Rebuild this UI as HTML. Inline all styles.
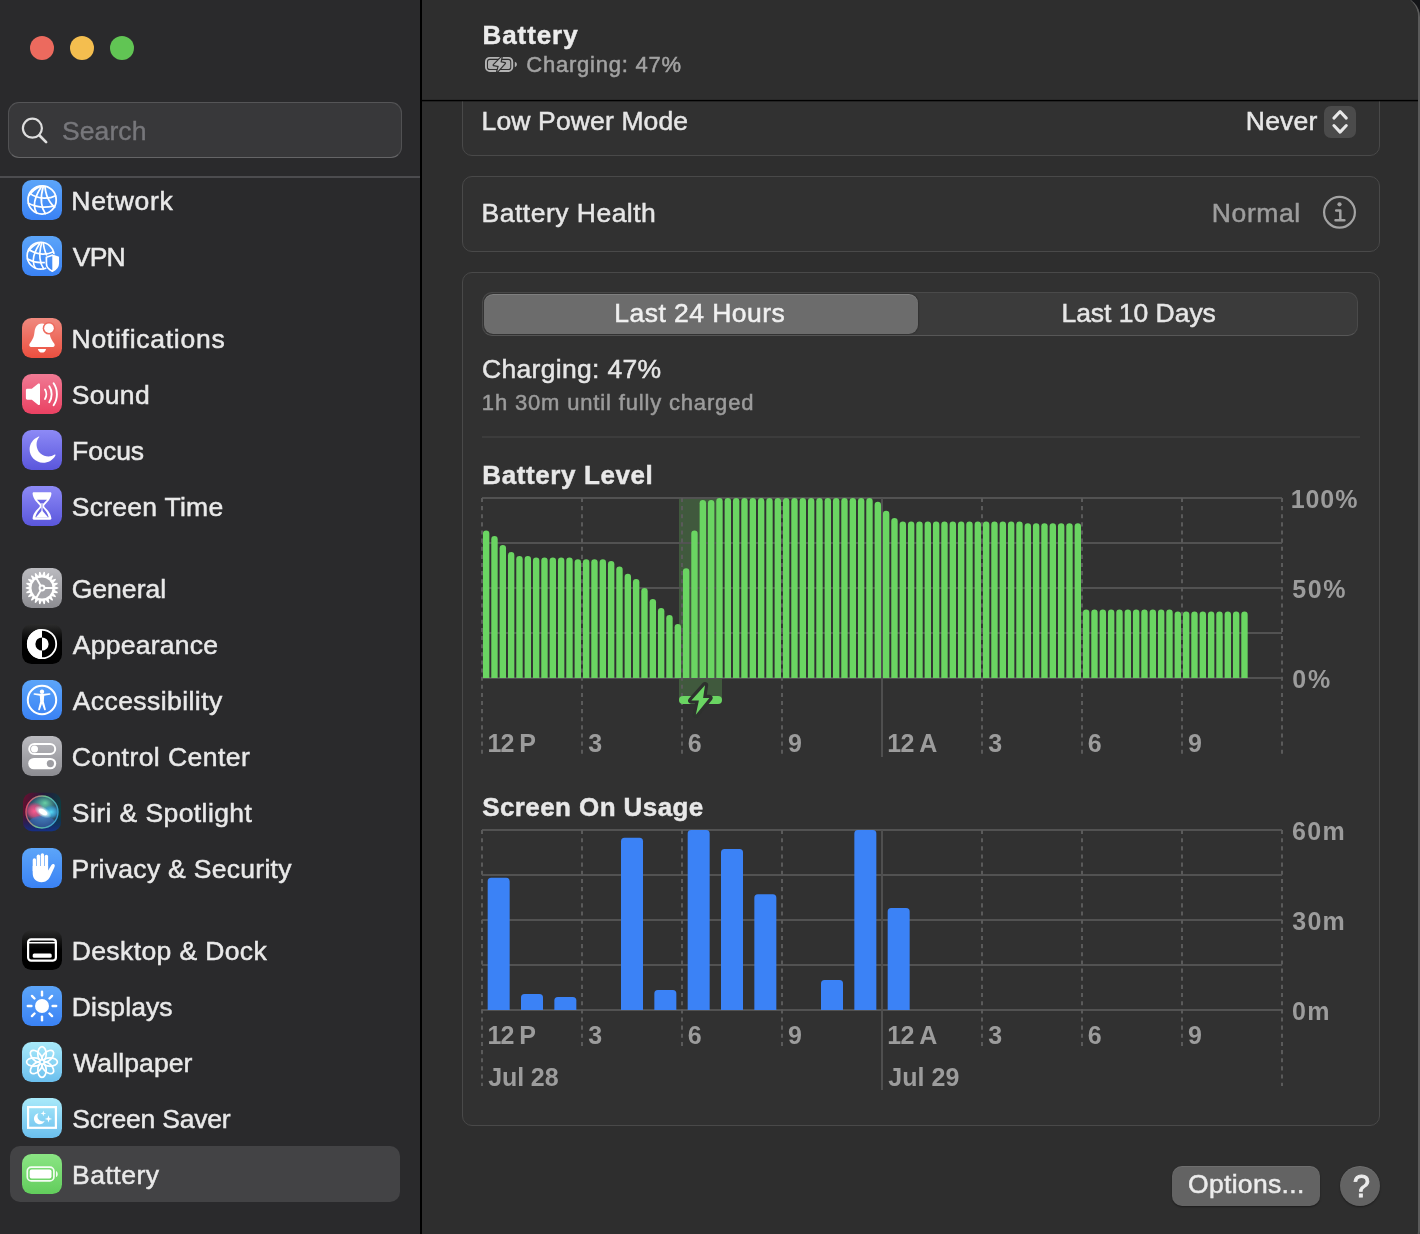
<!DOCTYPE html>
<html><head><meta charset="utf-8"><title>Battery</title>
<style>
html,body{margin:0;padding:0;background:#141518;}
body{width:1420px;height:1234px;overflow:hidden;position:relative;font-family:"Liberation Sans", sans-serif;color:#e6e6e6;-webkit-font-smoothing:antialiased}
#win{will-change:transform;position:absolute;left:0;top:-3px;width:1418px;height:1254px;background:#2e2e2e;border-right:2px solid #5a5a5a;border-top-right-radius:20px;border-bottom-right-radius:20px;overflow:hidden}
#in{position:absolute;left:0;top:3px;width:1420px;height:1250px}
#side{position:absolute;left:0;top:0;width:420px;height:1250px;background:#2a2a2c}
#vdiv{position:absolute;left:420px;top:0;width:2px;height:1250px;background:#000}
#hdiv{position:absolute;left:422px;top:100px;width:998px;height:1px;background:#000;box-shadow:0 1px 0 rgba(0,0,0,.3),0 -1px 0 rgba(0,0,0,.12)}
.tl{position:absolute;top:35.8px;width:24.4px;height:24.4px;border-radius:12.2px}
#search{position:absolute;left:8px;top:102px;width:392px;height:54px;border-radius:11px;background:#38383a;border:1px solid #515153;border-top-color:#555557;border-bottom-color:#656567}
#search span{position:absolute;left:53px;top:11px;font-size:26px;line-height:32px;color:#7d7d81;letter-spacing:.2px}
#sdiv{position:absolute;left:0;top:176px;width:420px;height:2px;background:#4c4c4f}
#sel{position:absolute;left:10px;top:1146px;width:390px;height:56px;border-radius:10px;background:#434345}
.ic{position:absolute;left:22px;width:40px;height:40px}
.ic svg{display:block}
.sl{position:absolute;left:72px;height:40px;line-height:40px;font-size:26.5px;white-space:nowrap;color:#e9e9e9;-webkit-text-stroke:.5px #e9e9e9;transform:translateY(-.3px)}
.card{position:absolute;left:462px;width:916px;background:#313131;border:1px solid #494949;border-radius:10px}
.t26{position:absolute;font-size:26px;line-height:32px;white-space:nowrap;color:#e6e6e6;-webkit-text-stroke:.35px currentColor}
.t22{position:absolute;font-size:22px;line-height:28px;white-space:nowrap;color:#9d9d9d;-webkit-text-stroke:.3px currentColor}
.b{font-weight:700}
.tx{position:absolute;white-space:pre}
.ax{position:absolute;font-size:24px;line-height:28px;font-weight:700;color:#9c9c9c;white-space:nowrap}
svg{position:absolute;left:0;top:0}
</style></head>
<body>
<div id="win"><div id="in">
 <div id="side">
  <div class="tl" style="left:29.8px;background:#ec6a5e"></div>
  <div class="tl" style="left:69.9px;background:#f4be4f"></div>
  <div class="tl" style="left:109.8px;background:#61c554"></div>
  <div id="search">
   <svg width="40" height="40" viewBox="0 0 40 40" style="left:8px;top:8px"><circle cx="15.4" cy="17.2" r="9.5" fill="none" stroke="#dedede" stroke-width="2.2"/><path d="M22.3 24.2L29.1 31.1" stroke="#dedede" stroke-width="2.7" stroke-linecap="round"/></svg>
  </div>
  <div class="tx" style="left:61.92px;top:111.72px;font-size:26.5px;font-weight:400;line-height:39px;letter-spacing:0.106px;color:#77777b;-webkit-text-stroke:0.4px #77777b;">Search</div>
  <div id="sdiv"></div>
  <div id="sel"></div>
<div class="ic" style="top:180px"><svg width="40" height="40" viewBox="0 0 40 40"><defs><linearGradient id="gnw" x1="0" y1="0" x2="0" y2="1"><stop offset="0" stop-color="#5ca5f9"/><stop offset="1" stop-color="#3a82f5"/></linearGradient></defs><rect x="0" y="0" width="40" height="40" rx="9.5" fill="url(#gnw)"/><g><g fill="none" stroke="#fff" stroke-width="1.75" stroke-linecap="round"><circle cx="20.1" cy="19.9" r="14.1"/><path d="M19.3 6.8C15.5 12.800 12.200 19 12.400 25.500C12.500 28.500 13.300 30.900 14.700 32.900"/><path d="M21.300 6.300C19.600 12 19 18 19.500 23C19.900 27 21.200 30.600 23.300 33.500"/><path d="M22.900 6.600C23.600 12.800 25.500 18.400 28 22C29.500 24.200 31 25.900 32.700 27.200"/><path d="M18.300 6.400C13.500 8.400 9.500 12 7.300 15.300"/><path d="M7.800 13.400C12 16.500 17 18 22 18.200C26.500 18.300 30.500 17.500 33.600 15.800"/><path d="M6.400 23.300C10.500 25.600 15.500 26.900 20.500 27.100C24.500 27.200 28 26.900 31.200 26.200"/></g></g></svg></div>
<div class="tx" style="left:71.32px;top:181.52px;font-size:26.5px;font-weight:400;line-height:39px;letter-spacing:0.706px;color:#e9e9e9;-webkit-text-stroke:0.5px #e9e9e9;">Network</div>
<div class="ic" style="top:236px"><svg width="40" height="40" viewBox="0 0 40 40"><defs><linearGradient id="gvp" x1="0" y1="0" x2="0" y2="1"><stop offset="0" stop-color="#5ca5f9"/><stop offset="1" stop-color="#3a82f5"/></linearGradient><clipPath id="vpc"><path clip-rule="evenodd" d="M0 0H40V40H0zM30.300 17.500L22.900 20.200V27.600C22.900 32 26 35 30.300 37.100C34.600 35 37.700 32 37.700 27.600V20.200z"/></clipPath></defs><rect x="0" y="0" width="40" height="40" rx="9.5" fill="url(#gvp)"/><g clip-path="url(#vpc)"><g fill="none" stroke="#fff" stroke-width="1.75" stroke-linecap="round" transform="translate(-0.6 0.7) scale(0.955)"><circle cx="20.1" cy="19.9" r="14.1"/><path d="M19.3 6.8C15.5 12.800 12.200 19 12.400 25.500C12.500 28.500 13.300 30.900 14.700 32.900"/><path d="M21.300 6.300C19.600 12 19 18 19.500 23C19.900 27 21.200 30.600 23.300 33.500"/><path d="M22.900 6.600C23.600 12.800 25.500 18.400 28 22C29.500 24.200 31 25.900 32.700 27.200"/><path d="M18.300 6.400C13.500 8.400 9.500 12 7.300 15.300"/><path d="M7.800 13.400C12 16.500 17 18 22 18.200C26.500 18.300 30.500 17.500 33.600 15.800"/><path d="M6.400 23.300C10.500 25.600 15.500 26.900 20.500 27.100C24.500 27.200 28 26.900 31.200 26.200"/></g></g><path d="M30.300 19.200L36.200 21.300V27.500C36.200 31 33.600 33.600 30.300 35.200C27 33.600 24.400 31 24.400 27.500V21.300z" fill="none" stroke="#fff" stroke-width="1.700" stroke-linejoin="round"/><path d="M30.300 19.200L36.200 21.300V27.500C36.200 31 33.600 33.600 30.300 35.200z" fill="#fff"/></svg></div>
<div class="tx" style="left:72.78px;top:237.52px;font-size:26.5px;font-weight:400;line-height:39px;letter-spacing:-0.78px;color:#e9e9e9;-webkit-text-stroke:0.5px #e9e9e9;">VPN</div>
<div class="ic" style="top:318px"><svg width="40" height="40" viewBox="0 0 40 40"><defs><linearGradient id="gnt" x1="0" y1="0" x2="0" y2="1"><stop offset="0" stop-color="#f08a7f"/><stop offset="1" stop-color="#eb4f3f"/></linearGradient></defs><rect x="0" y="0" width="40" height="40" rx="9.5" fill="url(#gnt)"/><path d="M20 5.400C15.800 5.400 13.200 8.600 12.600 13.200C12.100 17.500 11.600 20.500 7.800 25.400C6.700 26.800 7.300 28.900 9.300 28.900H30.700C32.700 28.900 33.300 26.800 32.200 25.400C28.400 20.500 27.900 17.500 27.400 13.200C26.800 8.600 24.200 5.400 20 5.400z" fill="#fff"/><path d="M15.900 30.900H24.100C23.600 33.300 22 34.500 20 34.500S16.400 33.300 15.900 30.900z" fill="#fff"/><circle cx="27" cy="10.200" r="6.300" fill="#ee6b5e"/><circle cx="27" cy="10.200" r="4.800" fill="#fff"/></svg></div>
<div class="tx" style="left:71.52px;top:319.52px;font-size:26.5px;font-weight:400;line-height:39px;letter-spacing:0.736px;color:#e9e9e9;-webkit-text-stroke:0.5px #e9e9e9;">Notifications</div>
<div class="ic" style="top:374px"><svg width="40" height="40" viewBox="0 0 40 40"><defs><linearGradient id="gsd" x1="0" y1="0" x2="0" y2="1"><stop offset="0" stop-color="#f07a94"/><stop offset="1" stop-color="#ea4162"/></linearGradient></defs><rect x="0" y="0" width="40" height="40" rx="9.5" fill="url(#gsd)"/><path d="M3.900 16.200C3.900 15.400 4.500 14.800 5.300 14.800H9.800L16.300 9.600C17 9.100 18 9.600 18 10.500V30C18 30.900 17 31.400 16.300 30.900L9.800 25.700H5.300C4.500 25.700 3.900 25.100 3.900 24.300z" fill="#fff"/><g fill="none" stroke="#fff" stroke-width="1.900" stroke-linecap="round"><path d="M23 15.600C24.700 18.200 24.700 22.300 23 24.900"/><path d="M27.300 12.300C30.400 16.800 30.400 23.700 27.300 28.200"/><path d="M31.600 9.300C36 15.600 36 24.900 31.600 31.200"/></g></svg></div>
<div class="tx" style="left:71.84px;top:375.52px;font-size:26.5px;font-weight:400;line-height:39px;letter-spacing:0.292px;color:#e9e9e9;-webkit-text-stroke:0.5px #e9e9e9;">Sound</div>
<div class="ic" style="top:430px"><svg width="40" height="40" viewBox="0 0 40 40"><defs><linearGradient id="gfc" x1="0" y1="0" x2="0" y2="1"><stop offset="0" stop-color="#8d8af6"/><stop offset="1" stop-color="#5a56dc"/></linearGradient></defs><rect x="0" y="0" width="40" height="40" rx="9.5" fill="url(#gfc)"/><path d="M17.200 7C13.500 11 13.500 19 18.500 23.500C22.500 27 28.500 27.500 32.700 24.600C33.200 24.300 33.700 24.800 33.400 25.400C31 30 26.300 32.700 21 32.700C13.600 32.700 7.600 26.700 7.600 19.300C7.600 13.500 11.300 8.700 16.300 6.700C17 6.400 17.600 6.600 17.200 7z" fill="#fff"/></svg></div>
<div class="tx" style="left:72.02px;top:431.52px;font-size:26.5px;font-weight:400;line-height:39px;letter-spacing:-0.016px;color:#e9e9e9;-webkit-text-stroke:0.5px #e9e9e9;">Focus</div>
<div class="ic" style="top:486px"><svg width="40" height="40" viewBox="0 0 40 40"><defs><linearGradient id="gst" x1="0" y1="0" x2="0" y2="1"><stop offset="0" stop-color="#8d8af6"/><stop offset="1" stop-color="#5a56dc"/></linearGradient></defs><rect x="0" y="0" width="40" height="40" rx="9.5" fill="url(#gst)"/><path d="M11.800 6.300H28.200C29 6.300 29.500 6.900 29.400 7.700C28.900 12.500 26 15.500 22.300 19.300V20.700C26 24.500 28.900 27.500 29.400 32.300C29.500 33.100 29 33.700 28.200 33.700H11.800C11 33.700 10.500 33.100 10.600 32.300C11.100 27.500 14 24.500 17.700 20.700V19.300C14 15.500 11.100 12.500 10.600 7.700C10.500 6.900 11 6.300 11.800 6.300z" fill="#fff"/><path d="M15 13.800H25L20.700 18.300V21.500C23.500 24.500 25.800 27 26.700 31.300H13.300C14.200 27 16.500 24.500 19.300 21.500V18.300z" fill="#6b67e4"/><path d="M20 24.300L26 31.300H14z" fill="#fff"/><rect x="19.500" y="17" width="1" height="8" fill="#fff"/></svg></div>
<div class="tx" style="left:71.84px;top:487.52px;font-size:26.5px;font-weight:400;line-height:39px;letter-spacing:0.261px;color:#e9e9e9;-webkit-text-stroke:0.5px #e9e9e9;">Screen Time</div>
<div class="ic" style="top:568px"><svg width="40" height="40" viewBox="0 0 40 40"><defs><linearGradient id="gge" x1="0" y1="0" x2="0" y2="1"><stop offset="0" stop-color="#bbbbc0"/><stop offset="1" stop-color="#8c8c91"/></linearGradient></defs><rect x="0" y="0" width="40" height="40" rx="9.5" fill="url(#gge)"/><path d="M32.17 18.25L36.29 19.39L36.29 20.61L32.17 21.75L32.17 21.75L35.80 24.01L35.46 25.17L31.19 25.11L31.19 25.11L34.03 28.30L33.38 29.32L29.30 28.05L29.30 28.05L31.12 31.91L30.21 32.71L26.65 30.35L26.65 30.35L27.32 34.57L26.22 35.07L23.47 31.80L23.47 31.80L22.92 36.04L21.72 36.21L20.00 32.30L20.00 32.30L18.28 36.21L17.08 36.04L16.53 31.80L16.53 31.80L13.78 35.07L12.68 34.57L13.35 30.35L13.35 30.35L9.79 32.71L8.88 31.91L10.70 28.05L10.70 28.05L6.62 29.32L5.97 28.30L8.81 25.11L8.81 25.11L4.54 25.17L4.20 24.01L7.83 21.75L7.83 21.75L3.71 20.61L3.71 19.39L7.83 18.25L7.83 18.25L4.20 15.99L4.54 14.83L8.81 14.89L8.81 14.89L5.97 11.70L6.62 10.68L10.70 11.95L10.70 11.95L8.88 8.09L9.79 7.29L13.35 9.65L13.35 9.65L12.68 5.43L13.78 4.93L16.53 8.20L16.53 8.20L17.08 3.96L18.28 3.79L20.00 7.70L20.00 7.70L21.72 3.79L22.92 3.96L23.47 8.20L23.47 8.20L26.22 4.93L27.32 5.43L26.65 9.65L26.65 9.65L30.21 7.29L31.12 8.09L29.30 11.95L29.30 11.95L33.38 10.68L34.03 11.70L31.19 14.89L31.19 14.89L35.46 14.83L35.80 15.99L32.17 18.25z" fill="#fff"/><circle cx="20" cy="20" r="12.7" fill="#fff"/><circle cx="20" cy="20" r="10.5" fill="#a5a5aa"/><g stroke="#fff" stroke-width="1.900" stroke-linecap="round"><path d="M20 20H31"/><path d="M20 20L14.500 10.500"/><path d="M20 20L14.500 29.500"/></g><circle cx="20" cy="20" r="3.400" fill="#fff"/><circle cx="20" cy="20" r="1.500" fill="#a5a5aa"/></svg></div>
<div class="tx" style="left:71.65px;top:569.52px;font-size:26.5px;font-weight:400;line-height:39px;letter-spacing:0.044px;color:#e9e9e9;-webkit-text-stroke:0.5px #e9e9e9;">General</div>
<div class="ic" style="top:624px"><svg width="40" height="40" viewBox="0 0 40 40"><defs><linearGradient id="gap" x1="0" y1="0" x2="0" y2="1"><stop offset="0" stop-color="#2c2c2c"/><stop offset=".45" stop-color="#000"/></linearGradient></defs><rect x="0" y="0" width="40" height="40" rx="9.5" fill="url(#gap)"/><circle cx="20" cy="20" r="14.200" fill="#000" stroke="#fff" stroke-width="1.800"/><path d="M20 5A15 15 0 0 0 20 35z" fill="#fff"/><path d="M20 13.400A6.600 6.600 0 0 0 20 26.600z" fill="#000"/><path d="M20 13.400A6.600 6.600 0 0 1 20 26.600z" fill="#fff"/></svg></div>
<div class="tx" style="left:72.71px;top:625.52px;font-size:26.5px;font-weight:400;line-height:39px;letter-spacing:0.271px;color:#e9e9e9;-webkit-text-stroke:0.5px #e9e9e9;">Appearance</div>
<div class="ic" style="top:680px"><svg width="40" height="40" viewBox="0 0 40 40"><defs><linearGradient id="gac" x1="0" y1="0" x2="0" y2="1"><stop offset="0" stop-color="#5ca5f9"/><stop offset="1" stop-color="#3a82f5"/></linearGradient></defs><rect x="0" y="0" width="40" height="40" rx="9.5" fill="url(#gac)"/><circle cx="20" cy="20" r="14.200" fill="none" stroke="#fff" stroke-width="2"/><circle cx="20" cy="11.800" r="2.200" fill="#fff"/><path d="M12.200 14.700L17.800 15.800L18.200 21.500L16.200 29.300C16 30.300 17.500 30.700 17.900 29.700L20 23.800L22.100 29.700C22.500 30.700 24 30.300 23.800 29.300L21.800 21.500L22.200 15.800L27.800 14.700C28.800 14.500 28.600 13.100 27.600 13.200L20 14.100L12.400 13.200C11.400 13.100 11.200 14.500 12.200 14.700z" fill="#fff"/></svg></div>
<div class="tx" style="left:72.71px;top:681.52px;font-size:26.5px;font-weight:400;line-height:39px;letter-spacing:0.434px;color:#e9e9e9;-webkit-text-stroke:0.5px #e9e9e9;">Accessibility</div>
<div class="ic" style="top:736px"><svg width="40" height="40" viewBox="0 0 40 40"><defs><linearGradient id="gcc" x1="0" y1="0" x2="0" y2="1"><stop offset="0" stop-color="#bbbbc0"/><stop offset="1" stop-color="#8c8c91"/></linearGradient></defs><rect x="0" y="0" width="40" height="40" rx="9.5" fill="url(#gcc)"/><rect x="7.200" y="7.900" width="26" height="10.200" rx="5.100" fill="none" stroke="#fff" stroke-width="2"/><circle cx="12.500" cy="13" r="3.500" fill="#fff"/><rect x="6.200" y="21.900" width="28" height="11.400" rx="5.700" fill="#fff"/><circle cx="28.400" cy="27.600" r="3.600" fill="#9d9da2"/></svg></div>
<div class="tx" style="left:71.65px;top:737.52px;font-size:26.5px;font-weight:400;line-height:39px;letter-spacing:0.443px;color:#e9e9e9;-webkit-text-stroke:0.5px #e9e9e9;">Control Center</div>
<div class="ic" style="top:792px"><svg width="40" height="40" viewBox="0 0 40 40"><defs><linearGradient id="gsi" x1="0" y1="0.2" x2="1" y2="0.5"><stop offset="0" stop-color="#64102f"/><stop offset=".45" stop-color="#251a3c"/><stop offset="1" stop-color="#0c3f42"/></linearGradient><linearGradient id="gsr" x1="0" y1=".35" x2="1" y2=".65"><stop offset="0" stop-color="#f0506e"/><stop offset=".5" stop-color="#6fd39a"/><stop offset="1" stop-color="#3aa7e0"/></linearGradient><radialGradient id="gso" cx=".52" cy=".45" r=".55"><stop offset="0" stop-color="#7fb5c6"/><stop offset=".55" stop-color="#3f7188"/><stop offset="1" stop-color="#22324f"/></radialGradient><radialGradient id="gsw" cx=".5" cy=".5" r=".5"><stop offset="0" stop-color="#fff"/><stop offset=".4" stop-color="#f2fdff" stop-opacity=".95"/><stop offset="1" stop-color="#b6efff" stop-opacity="0"/></radialGradient><radialGradient id="gsp" cx=".5" cy=".5" r=".5"><stop offset="0" stop-color="#ff5a8f"/><stop offset=".6" stop-color="#e0457a" stop-opacity=".75"/><stop offset="1" stop-color="#d4336a" stop-opacity="0"/></radialGradient><radialGradient id="gsc" cx=".5" cy=".5" r=".5"><stop offset="0" stop-color="#58dcf4"/><stop offset=".6" stop-color="#37a5dd" stop-opacity=".7"/><stop offset="1" stop-color="#2a8fd0" stop-opacity="0"/></radialGradient><radialGradient id="gsg" cx=".5" cy=".5" r=".5"><stop offset="0" stop-color="#6ad0a6"/><stop offset="1" stop-color="#2f8f78" stop-opacity="0"/></radialGradient><linearGradient id="gsb" x1="0" y1="0" x2="0" y2="1"><stop offset=".55" stop-color="#10205a" stop-opacity="0"/><stop offset="1" stop-color="#16308a" stop-opacity=".95"/></linearGradient><clipPath id="gscl"><circle cx="20" cy="20" r="16"/></clipPath></defs><rect x="1" y="0.800" width="38" height="38.400" rx="9" fill="url(#gsi)"/><rect x="1" y="0.800" width="38" height="38.400" rx="9" fill="url(#gsb)"/><circle cx="20" cy="20" r="16" fill="url(#gso)"/><g clip-path="url(#gscl)"><ellipse cx="23" cy="11" rx="12" ry="9" fill="url(#gsg)"/><ellipse cx="12.500" cy="19" rx="10" ry="9" fill="url(#gsp)"/><ellipse cx="29" cy="20" rx="9" ry="7" fill="url(#gsc)"/><ellipse cx="20" cy="31" rx="13" ry="7" fill="#3a6fd0" opacity=".5"/><ellipse cx="21" cy="20" rx="9.500" ry="5" fill="url(#gsw)" transform="rotate(30 21 20)"/><ellipse cx="21" cy="20" rx="4.600" ry="2.300" fill="#fff" transform="rotate(30 21 20)"/></g><circle cx="20" cy="20" r="16" fill="none" stroke="url(#gsr)" stroke-width="1.400" opacity=".9"/></svg></div>
<div class="tx" style="left:71.84px;top:793.52px;font-size:26.5px;font-weight:400;line-height:39px;letter-spacing:0.416px;color:#e9e9e9;-webkit-text-stroke:0.5px #e9e9e9;">Siri &amp; Spotlight</div>
<div class="ic" style="top:848px"><svg width="40" height="40" viewBox="0 0 40 40"><defs><linearGradient id="gpv" x1="0" y1="0" x2="0" y2="1"><stop offset="0" stop-color="#5ca5f9"/><stop offset="1" stop-color="#3a82f5"/></linearGradient></defs><rect x="0" y="0" width="40" height="40" rx="9.5" fill="url(#gpv)"/><g fill="#fff"><rect x="10.700" y="10.300" width="3.400" height="14" rx="1.700"/><rect x="14.700" y="6.500" width="3.400" height="16" rx="1.700"/><rect x="18.700" y="5.300" width="3.400" height="16" rx="1.700"/><rect x="22.700" y="6.800" width="3.400" height="16" rx="1.700"/><path d="M10.700 18H26.100V22.500L29.300 17.300C30 16.100 31.300 15.800 32.100 16.300C32.900 16.800 33 17.800 32.500 18.900L28.600 27.500C26.900 31.500 24 34.200 19.500 34.200C14.300 34.200 10.700 30.600 10.700 25.500z"/></g></svg></div>
<div class="tx" style="left:71.52px;top:849.52px;font-size:26.5px;font-weight:400;line-height:39px;letter-spacing:0.293px;color:#e9e9e9;-webkit-text-stroke:0.5px #e9e9e9;">Privacy &amp; Security</div>
<div class="ic" style="top:930px"><svg width="40" height="40" viewBox="0 0 40 40"><defs><linearGradient id="gdk" x1="0" y1="0" x2="0" y2="1"><stop offset="0" stop-color="#2a2a2a"/><stop offset=".5" stop-color="#000"/></linearGradient></defs><rect x="0" y="0" width="40" height="40" rx="9.5" fill="url(#gdk)"/><rect x="6.100" y="9.300" width="27.800" height="21.300" rx="3" fill="none" stroke="#fff" stroke-width="2.200"/><rect x="6.500" y="12" width="27" height="1.500" fill="#fff"/><rect x="10.700" y="23.600" width="19" height="4.100" rx="1.500" fill="#fff"/></svg></div>
<div class="tx" style="left:71.72px;top:931.52px;font-size:26.5px;font-weight:400;line-height:39px;letter-spacing:0.387px;color:#e9e9e9;-webkit-text-stroke:0.5px #e9e9e9;">Desktop &amp; Dock</div>
<div class="ic" style="top:986px"><svg width="40" height="40" viewBox="0 0 40 40"><defs><linearGradient id="gdp" x1="0" y1="0" x2="0" y2="1"><stop offset="0" stop-color="#5ca5f9"/><stop offset="1" stop-color="#3a82f5"/></linearGradient></defs><rect x="0" y="0" width="40" height="40" rx="9.5" fill="url(#gdp)"/><circle cx="20" cy="20" r="7" fill="#fff"/><g stroke="#fff" stroke-width="2.400" stroke-linecap="round"><path d="M30.60 20.00L34.20 20.00"/><path d="M27.50 27.50L30.04 30.04"/><path d="M20.00 30.60L20.00 34.20"/><path d="M12.50 27.50L9.96 30.04"/><path d="M9.40 20.00L5.80 20.00"/><path d="M12.50 12.50L9.96 9.96"/><path d="M20.00 9.40L20.00 5.80"/><path d="M27.50 12.50L30.04 9.96"/></g></svg></div>
<div class="tx" style="left:71.72px;top:987.52px;font-size:26.5px;font-weight:400;line-height:39px;letter-spacing:0.105px;color:#e9e9e9;-webkit-text-stroke:0.5px #e9e9e9;">Displays</div>
<div class="ic" style="top:1042px"><svg width="40" height="40" viewBox="0 0 40 40"><defs><linearGradient id="gwp" x1="0" y1="0" x2="0" y2="1"><stop offset="0" stop-color="#a9eafa"/><stop offset="1" stop-color="#6bbfee"/></linearGradient></defs><rect x="0" y="0" width="40" height="40" rx="9.5" fill="url(#gwp)"/><g fill="none" stroke="#fff" stroke-width="1.700"><ellipse cx="20" cy="12" rx="4.2" ry="7.4" transform="rotate(0 20 20)"/><ellipse cx="20" cy="12" rx="4.2" ry="7.4" transform="rotate(45 20 20)"/><ellipse cx="20" cy="12" rx="4.2" ry="7.4" transform="rotate(90 20 20)"/><ellipse cx="20" cy="12" rx="4.2" ry="7.4" transform="rotate(135 20 20)"/><ellipse cx="20" cy="12" rx="4.2" ry="7.4" transform="rotate(180 20 20)"/><ellipse cx="20" cy="12" rx="4.2" ry="7.4" transform="rotate(225 20 20)"/><ellipse cx="20" cy="12" rx="4.2" ry="7.4" transform="rotate(270 20 20)"/><ellipse cx="20" cy="12" rx="4.2" ry="7.4" transform="rotate(315 20 20)"/></g><circle cx="20" cy="20" r="2.600" fill="#fff"/><circle cx="20" cy="20" r="1.300" fill="#86d0f2"/></svg></div>
<div class="tx" style="left:73.17px;top:1043.52px;font-size:26.5px;font-weight:400;line-height:39px;letter-spacing:0.117px;color:#e9e9e9;-webkit-text-stroke:0.5px #e9e9e9;">Wallpaper</div>
<div class="ic" style="top:1098px"><svg width="40" height="40" viewBox="0 0 40 40"><defs><linearGradient id="gss" x1="0" y1="0" x2="0" y2="1"><stop offset="0" stop-color="#a9eafa"/><stop offset="1" stop-color="#6bbfee"/></linearGradient></defs><rect x="0" y="0" width="40" height="40" rx="9.5" fill="url(#gss)"/><rect x="6.100" y="9.100" width="27.800" height="20.700" fill="none" stroke="#fff" stroke-width="2.200"/><path d="M16.500 15.200C14.800 17.500 15.200 20.600 17.400 22.300C19 23.500 21 23.700 22.700 22.900C21.600 25.400 18.800 26.800 16 26C13 25.100 11.300 22 12.200 19C12.800 17 14.500 15.500 16.500 15.200z" fill="#fff"/><path d="M21.300 12.500L22 14.700L24.200 15.400L22 16.100L21.300 18.300L20.600 16.100L18.400 15.400L20.600 14.700z" fill="#fff"/><path d="M26.500 17.200L27.400 20L30.200 20.900L27.400 21.800L26.500 24.600L25.600 21.800L22.800 20.900L25.600 20z" fill="#fff"/></svg></div>
<div class="tx" style="left:72.24px;top:1099.52px;font-size:26.5px;font-weight:400;line-height:39px;letter-spacing:-0.199px;color:#e9e9e9;-webkit-text-stroke:0.5px #e9e9e9;">Screen Saver</div>
<div class="ic" style="top:1154px"><svg width="40" height="40" viewBox="0 0 40 40"><defs><linearGradient id="gbt" x1="0" y1="0" x2="0" y2="1"><stop offset="0" stop-color="#8be584"/><stop offset="1" stop-color="#62cd5c"/></linearGradient></defs><rect x="0" y="0" width="40" height="40" rx="9.5" fill="url(#gbt)"/><rect x="5.300" y="13.100" width="26.600" height="13.800" rx="4" fill="none" stroke="#fff" stroke-width="1.700" opacity=".92"/><rect x="7.700" y="15.500" width="21.800" height="9" rx="2" fill="#fff"/><path d="M34 16.900C36.300 17.900 36.300 22.100 34 23.100z" fill="#fff" opacity=".9"/></svg></div>
<div class="tx" style="left:72.02px;top:1155.52px;font-size:26.5px;font-weight:400;line-height:39px;letter-spacing:0.497px;color:#e9e9e9;-webkit-text-stroke:0.5px #e9e9e9;">Battery</div>
 </div>
 <div id="vdiv"></div>

 <!-- scrolled content -->
 <div class="card" style="top:78px;height:76px"></div>
 <div class="tx" style="left:481.62px;top:101.92px;font-size:26.5px;font-weight:400;line-height:39px;letter-spacing:0.133px;color:#e6e6e6;-webkit-text-stroke:0.5px #e6e6e6;">Low Power Mode</div>
 <div class="tx" style="left:1245.82px;top:101.82px;font-size:26.5px;font-weight:400;line-height:39px;letter-spacing:0.206px;color:#e6e6e6;-webkit-text-stroke:0.5px #e6e6e6;">Never</div>
 <div style="position:absolute;left:1324px;top:106px;width:32px;height:32px;border-radius:7px;background:#4b4b4b"></div>
 <svg width="32" height="32" viewBox="0 0 32 32" style="left:1324px;top:106px"><path d="M9.9 12.1L16.1 5.5L22.3 12.1M9.9 19.5L16.1 26.1L22.3 19.5" fill="none" stroke="#e8e8e8" stroke-width="3" stroke-linecap="round" stroke-linejoin="round"/></svg>

 <div class="card" style="top:176px;height:74px"></div>
 <div class="tx" style="left:481.62px;top:193.52px;font-size:26.5px;font-weight:400;line-height:39px;letter-spacing:0.483px;color:#e6e6e6;-webkit-text-stroke:0.5px #e6e6e6;">Battery Health</div>
 <div class="tx" style="left:1211.82px;top:193.52px;font-size:26.5px;font-weight:400;line-height:39px;letter-spacing:0.601px;color:#9d9d9d;-webkit-text-stroke:0.5px #9d9d9d;">Normal</div>
 <svg width="36" height="36" viewBox="0 0 36 36" style="left:1321px;top:194px"><circle cx="18.5" cy="18.25" r="15.4" fill="none" stroke="#a3a3a3" stroke-width="2.2"/><circle cx="18.5" cy="10.3" r="2.1" fill="#a3a3a3"/><path d="M15.2 16.5h4.1v9.7M14.5 26.2h8.9" fill="none" stroke="#a3a3a3" stroke-width="2.5" stroke-linecap="round" stroke-linejoin="round"/></svg>

 <div class="card" style="top:272px;height:852px"></div>
 <div style="position:absolute;left:482px;top:292px;width:874px;height:42px;border-radius:10px;background:#3b3b3b;border:1px solid #4a4a4a;border-bottom-color:#575757"></div>
 <div style="position:absolute;left:484px;top:294px;width:434px;height:40px;border-radius:9px;background:#6c6c6c;box-shadow:0 0 2px rgba(0,0,0,.5),inset 0 1px 0 rgba(255,255,255,.13)"></div>
 <div class="tx" style="left:614.32px;top:293.62px;font-size:26.5px;font-weight:400;line-height:39px;letter-spacing:0.449px;color:#f0f0f0;-webkit-text-stroke:0.5px #f0f0f0;">Last 24 Hours</div>
 <div class="tx" style="left:1061.42px;top:293.62px;font-size:26.5px;font-weight:400;line-height:39px;letter-spacing:-0.018px;color:#e6e6e6;-webkit-text-stroke:0.5px #e6e6e6;">Last 10 Days</div>
 <div class="tx" style="left:481.95px;top:350.02px;font-size:26.5px;font-weight:400;line-height:39px;letter-spacing:0.326px;color:#e6e6e6;-webkit-text-stroke:0.5px #e6e6e6;">Charging: 47%</div>
 <div class="tx" style="left:481.84px;top:386.28px;font-size:22px;font-weight:400;line-height:33px;letter-spacing:0.838px;color:#9c9c9c;-webkit-text-stroke:0.5px #9c9c9c;">1h 30m until fully charged</div>
 <div style="position:absolute;left:482px;top:436px;width:878px;height:2px;background:#3c3c3c"></div>
 <div class="tx" style="left:482.37px;top:456.39px;font-size:26px;font-weight:700;line-height:39px;letter-spacing:0.598px;color:#e8e8e8;-webkit-text-stroke:0.45px #e8e8e8;">Battery Level</div>

 <svg width="1420" height="1234" viewBox="0 0 1420 1234">
  <rect x="679" y="498" width="43" height="202" fill="#40593d"/>
  <rect x="482" y="497.0" width="800" height="2" fill="#525252"/><rect x="482" y="542.0" width="800" height="2" fill="#525252"/><rect x="482" y="587.0" width="800" height="2" fill="#525252"/><rect x="482" y="632.0" width="800" height="2" fill="#525252"/><rect x="482" y="677.0" width="800" height="2" fill="#525252"/><line x1="482" y1="498" x2="482" y2="757" stroke="#5a5a5a" stroke-width="2" stroke-dasharray="4.06 4.06"/><line x1="582" y1="498" x2="582" y2="754" stroke="#5a5a5a" stroke-width="2" stroke-dasharray="4.06 4.06"/><line x1="682" y1="498" x2="682" y2="754" stroke="#5a5a5a" stroke-width="2" stroke-dasharray="4.06 4.06"/><line x1="782" y1="498" x2="782" y2="754" stroke="#5a5a5a" stroke-width="2" stroke-dasharray="4.06 4.06"/><rect x="881" y="498" width="2" height="259" fill="#4f4f4f"/><line x1="982" y1="498" x2="982" y2="754" stroke="#5a5a5a" stroke-width="2" stroke-dasharray="4.06 4.06"/><line x1="1082" y1="498" x2="1082" y2="754" stroke="#5a5a5a" stroke-width="2" stroke-dasharray="4.06 4.06"/><line x1="1182" y1="498" x2="1182" y2="754" stroke="#5a5a5a" stroke-width="2" stroke-dasharray="4.06 4.06"/><line x1="1282" y1="498" x2="1282" y2="757" stroke="#5a5a5a" stroke-width="2" stroke-dasharray="4.06 4.06"/>
  <g fill="#6ad562"><path d="M482.95 678V533.70a3.2 3.2 0 0 1 6.4 0V678z"/><path d="M491.28 678V539.20a3.2 3.2 0 0 1 6.4 0V678z"/><path d="M499.62 678V548.20a3.2 3.2 0 0 1 6.4 0V678z"/><path d="M507.95 678V555.20a3.2 3.2 0 0 1 6.4 0V678z"/><path d="M516.28 678V559.20a3.2 3.2 0 0 1 6.4 0V678z"/><path d="M524.62 678V559.20a3.2 3.2 0 0 1 6.4 0V678z"/><path d="M532.95 678V560.70a3.2 3.2 0 0 1 6.4 0V678z"/><path d="M541.28 678V560.70a3.2 3.2 0 0 1 6.4 0V678z"/><path d="M549.62 678V560.70a3.2 3.2 0 0 1 6.4 0V678z"/><path d="M557.95 678V560.70a3.2 3.2 0 0 1 6.4 0V678z"/><path d="M566.28 678V560.70a3.2 3.2 0 0 1 6.4 0V678z"/><path d="M574.62 678V562.40a3.2 3.2 0 0 1 6.4 0V678z"/><path d="M582.95 678V562.40a3.2 3.2 0 0 1 6.4 0V678z"/><path d="M591.28 678V562.40a3.2 3.2 0 0 1 6.4 0V678z"/><path d="M599.62 678V562.40a3.2 3.2 0 0 1 6.4 0V678z"/><path d="M607.95 678V564.20a3.2 3.2 0 0 1 6.4 0V678z"/><path d="M616.28 678V569.70a3.2 3.2 0 0 1 6.4 0V678z"/><path d="M624.62 678V576.90a3.2 3.2 0 0 1 6.4 0V678z"/><path d="M632.95 678V582.20a3.2 3.2 0 0 1 6.4 0V678z"/><path d="M641.28 678V591.20a3.2 3.2 0 0 1 6.4 0V678z"/><path d="M649.62 678V602.20a3.2 3.2 0 0 1 6.4 0V678z"/><path d="M657.95 678V611.20a3.2 3.2 0 0 1 6.4 0V678z"/><path d="M666.28 678V618.20a3.2 3.2 0 0 1 6.4 0V678z"/><path d="M674.62 678V627.20a3.2 3.2 0 0 1 6.4 0V678z"/><path d="M682.95 678V571.50a3.2 3.2 0 0 1 6.4 0V678z"/><path d="M691.28 678V533.70a3.2 3.2 0 0 1 6.4 0V678z"/><path d="M699.62 678V503.20a3.2 3.2 0 0 1 6.4 0V678z"/><path d="M707.95 678V503.20a3.2 3.2 0 0 1 6.4 0V678z"/><path d="M716.28 678V501.20a3.2 3.2 0 0 1 6.4 0V678z"/><path d="M724.62 678V501.20a3.2 3.2 0 0 1 6.4 0V678z"/><path d="M732.95 678V501.20a3.2 3.2 0 0 1 6.4 0V678z"/><path d="M741.28 678V501.20a3.2 3.2 0 0 1 6.4 0V678z"/><path d="M749.62 678V501.20a3.2 3.2 0 0 1 6.4 0V678z"/><path d="M757.95 678V501.20a3.2 3.2 0 0 1 6.4 0V678z"/><path d="M766.28 678V501.20a3.2 3.2 0 0 1 6.4 0V678z"/><path d="M774.62 678V501.20a3.2 3.2 0 0 1 6.4 0V678z"/><path d="M782.95 678V501.20a3.2 3.2 0 0 1 6.4 0V678z"/><path d="M791.28 678V501.20a3.2 3.2 0 0 1 6.4 0V678z"/><path d="M799.62 678V501.20a3.2 3.2 0 0 1 6.4 0V678z"/><path d="M807.95 678V501.20a3.2 3.2 0 0 1 6.4 0V678z"/><path d="M816.28 678V501.20a3.2 3.2 0 0 1 6.4 0V678z"/><path d="M824.62 678V501.20a3.2 3.2 0 0 1 6.4 0V678z"/><path d="M832.95 678V501.20a3.2 3.2 0 0 1 6.4 0V678z"/><path d="M841.28 678V501.20a3.2 3.2 0 0 1 6.4 0V678z"/><path d="M849.62 678V501.20a3.2 3.2 0 0 1 6.4 0V678z"/><path d="M857.95 678V501.20a3.2 3.2 0 0 1 6.4 0V678z"/><path d="M866.28 678V501.20a3.2 3.2 0 0 1 6.4 0V678z"/><path d="M874.62 678V505.00a3.2 3.2 0 0 1 6.4 0V678z"/><path d="M882.95 678V514.00a3.2 3.2 0 0 1 6.4 0V678z"/><path d="M891.28 678V521.20a3.2 3.2 0 0 1 6.4 0V678z"/><path d="M899.62 678V524.70a3.2 3.2 0 0 1 6.4 0V678z"/><path d="M907.95 678V524.70a3.2 3.2 0 0 1 6.4 0V678z"/><path d="M916.28 678V524.70a3.2 3.2 0 0 1 6.4 0V678z"/><path d="M924.62 678V524.70a3.2 3.2 0 0 1 6.4 0V678z"/><path d="M932.95 678V524.70a3.2 3.2 0 0 1 6.4 0V678z"/><path d="M941.28 678V524.70a3.2 3.2 0 0 1 6.4 0V678z"/><path d="M949.62 678V524.70a3.2 3.2 0 0 1 6.4 0V678z"/><path d="M957.95 678V524.70a3.2 3.2 0 0 1 6.4 0V678z"/><path d="M966.28 678V524.70a3.2 3.2 0 0 1 6.4 0V678z"/><path d="M974.62 678V524.70a3.2 3.2 0 0 1 6.4 0V678z"/><path d="M982.95 678V524.70a3.2 3.2 0 0 1 6.4 0V678z"/><path d="M991.28 678V524.70a3.2 3.2 0 0 1 6.4 0V678z"/><path d="M999.62 678V524.70a3.2 3.2 0 0 1 6.4 0V678z"/><path d="M1007.95 678V524.70a3.2 3.2 0 0 1 6.4 0V678z"/><path d="M1016.28 678V524.70a3.2 3.2 0 0 1 6.4 0V678z"/><path d="M1024.62 678V526.40a3.2 3.2 0 0 1 6.4 0V678z"/><path d="M1032.95 678V526.40a3.2 3.2 0 0 1 6.4 0V678z"/><path d="M1041.28 678V526.40a3.2 3.2 0 0 1 6.4 0V678z"/><path d="M1049.62 678V526.40a3.2 3.2 0 0 1 6.4 0V678z"/><path d="M1057.95 678V526.40a3.2 3.2 0 0 1 6.4 0V678z"/><path d="M1066.28 678V526.40a3.2 3.2 0 0 1 6.4 0V678z"/><path d="M1074.62 678V526.40a3.2 3.2 0 0 1 6.4 0V678z"/><path d="M1082.95 678V612.80a3.2 3.2 0 0 1 6.4 0V678z"/><path d="M1091.28 678V612.80a3.2 3.2 0 0 1 6.4 0V678z"/><path d="M1099.62 678V612.80a3.2 3.2 0 0 1 6.4 0V678z"/><path d="M1107.95 678V612.80a3.2 3.2 0 0 1 6.4 0V678z"/><path d="M1116.28 678V612.80a3.2 3.2 0 0 1 6.4 0V678z"/><path d="M1124.62 678V612.80a3.2 3.2 0 0 1 6.4 0V678z"/><path d="M1132.95 678V612.80a3.2 3.2 0 0 1 6.4 0V678z"/><path d="M1141.28 678V612.80a3.2 3.2 0 0 1 6.4 0V678z"/><path d="M1149.62 678V612.80a3.2 3.2 0 0 1 6.4 0V678z"/><path d="M1157.95 678V612.80a3.2 3.2 0 0 1 6.4 0V678z"/><path d="M1166.28 678V612.80a3.2 3.2 0 0 1 6.4 0V678z"/><path d="M1174.62 678V614.80a3.2 3.2 0 0 1 6.4 0V678z"/><path d="M1182.95 678V614.80a3.2 3.2 0 0 1 6.4 0V678z"/><path d="M1191.28 678V614.80a3.2 3.2 0 0 1 6.4 0V678z"/><path d="M1199.62 678V614.80a3.2 3.2 0 0 1 6.4 0V678z"/><path d="M1207.95 678V614.80a3.2 3.2 0 0 1 6.4 0V678z"/><path d="M1216.28 678V614.80a3.2 3.2 0 0 1 6.4 0V678z"/><path d="M1224.62 678V614.80a3.2 3.2 0 0 1 6.4 0V678z"/><path d="M1232.95 678V614.80a3.2 3.2 0 0 1 6.4 0V678z"/><path d="M1241.28 678V614.80a3.2 3.2 0 0 1 6.4 0V678z"/></g>
  <rect x="679" y="696" width="43" height="8" rx="4" fill="#6ad562"/>
  <path d="M705 685.2L691.3 700.6H698.9L695.8 714.8L709.4 698H703.1z" fill="#6ad562" stroke="#2e302e" stroke-width="6.4" stroke-linejoin="round" paint-order="stroke"/>
  <rect x="482" y="829.0" width="800" height="2" fill="#525252"/><rect x="482" y="874.0" width="800" height="2" fill="#525252"/><rect x="482" y="919.0" width="800" height="2" fill="#525252"/><rect x="482" y="964.0" width="800" height="2" fill="#525252"/><rect x="482" y="1009.0" width="800" height="2" fill="#525252"/><line x1="482" y1="830" x2="482" y2="1086" stroke="#5a5a5a" stroke-width="2" stroke-dasharray="4.075 4.075"/><line x1="582" y1="830" x2="582" y2="1046" stroke="#5a5a5a" stroke-width="2" stroke-dasharray="4.075 4.075"/><line x1="682" y1="830" x2="682" y2="1046" stroke="#5a5a5a" stroke-width="2" stroke-dasharray="4.075 4.075"/><line x1="782" y1="830" x2="782" y2="1046" stroke="#5a5a5a" stroke-width="2" stroke-dasharray="4.075 4.075"/><rect x="881" y="830" width="2" height="260" fill="#4f4f4f"/><line x1="982" y1="830" x2="982" y2="1046" stroke="#5a5a5a" stroke-width="2" stroke-dasharray="4.075 4.075"/><line x1="1082" y1="830" x2="1082" y2="1046" stroke="#5a5a5a" stroke-width="2" stroke-dasharray="4.075 4.075"/><line x1="1182" y1="830" x2="1182" y2="1046" stroke="#5a5a5a" stroke-width="2" stroke-dasharray="4.075 4.075"/><line x1="1282" y1="830" x2="1282" y2="1086" stroke="#5a5a5a" stroke-width="2" stroke-dasharray="4.075 4.075"/>
  <g fill="#3b82f6"><path d="M487.67 1010V881.30a3.5 3.5 0 0 1 3.5 -3.5h15.0a3.5 3.5 0 0 1 3.5 3.5V1010z"/><path d="M521.00 1010V997.50a3.5 3.5 0 0 1 3.5 -3.5h15.0a3.5 3.5 0 0 1 3.5 3.5V1010z"/><path d="M554.34 1010V1000.50a3.5 3.5 0 0 1 3.5 -3.5h15.0a3.5 3.5 0 0 1 3.5 3.5V1010z"/><path d="M621.00 1010V841.30a3.5 3.5 0 0 1 3.5 -3.5h15.0a3.5 3.5 0 0 1 3.5 3.5V1010z"/><path d="M654.34 1010V993.50a3.5 3.5 0 0 1 3.5 -3.5h15.0a3.5 3.5 0 0 1 3.5 3.5V1010z"/><path d="M687.67 1010V833.50a3.5 3.5 0 0 1 3.5 -3.5h15.0a3.5 3.5 0 0 1 3.5 3.5V1010z"/><path d="M721.00 1010V852.50a3.5 3.5 0 0 1 3.5 -3.5h15.0a3.5 3.5 0 0 1 3.5 3.5V1010z"/><path d="M754.34 1010V897.70a3.5 3.5 0 0 1 3.5 -3.5h15.0a3.5 3.5 0 0 1 3.5 3.5V1010z"/><path d="M821.00 1010V983.50a3.5 3.5 0 0 1 3.5 -3.5h15.0a3.5 3.5 0 0 1 3.5 3.5V1010z"/><path d="M854.34 1010V833.50a3.5 3.5 0 0 1 3.5 -3.5h15.0a3.5 3.5 0 0 1 3.5 3.5V1010z"/><path d="M887.67 1010V911.50a3.5 3.5 0 0 1 3.5 -3.5h15.0a3.5 3.5 0 0 1 3.5 3.5V1010z"/></g>
 </svg>
 <div class="tx" style="left:487.49px;top:725.34px;font-size:25px;font-weight:700;line-height:37px;letter-spacing:-0.989px;color:#9c9c9c;-webkit-text-stroke:0px #9c9c9c;">12 P</div><div class="tx" style="left:588.27px;top:725.34px;font-size:25px;font-weight:700;line-height:37px;letter-spacing:0px;color:#9c9c9c;-webkit-text-stroke:0px #9c9c9c;">3</div><div class="tx" style="left:687.77px;top:725.34px;font-size:25px;font-weight:700;line-height:37px;letter-spacing:0px;color:#9c9c9c;-webkit-text-stroke:0px #9c9c9c;">6</div><div class="tx" style="left:788.03px;top:725.34px;font-size:25px;font-weight:700;line-height:37px;letter-spacing:0px;color:#9c9c9c;-webkit-text-stroke:0px #9c9c9c;">9</div><div class="tx" style="left:887.19px;top:725.34px;font-size:25px;font-weight:700;line-height:37px;letter-spacing:-0.607px;color:#9c9c9c;-webkit-text-stroke:0px #9c9c9c;">12 A</div><div class="tx" style="left:988.27px;top:725.34px;font-size:25px;font-weight:700;line-height:37px;letter-spacing:0px;color:#9c9c9c;-webkit-text-stroke:0px #9c9c9c;">3</div><div class="tx" style="left:1087.77px;top:725.34px;font-size:25px;font-weight:700;line-height:37px;letter-spacing:0px;color:#9c9c9c;-webkit-text-stroke:0px #9c9c9c;">6</div><div class="tx" style="left:1188.03px;top:725.34px;font-size:25px;font-weight:700;line-height:37px;letter-spacing:0px;color:#9c9c9c;-webkit-text-stroke:0px #9c9c9c;">9</div>
 <div class="tx" style="left:1290.79px;top:480.84px;font-size:25px;font-weight:700;line-height:37px;letter-spacing:0.89px;color:#9c9c9c;-webkit-text-stroke:0px #9c9c9c;">100%</div>
 <div class="tx" style="left:1292.31px;top:570.84px;font-size:25px;font-weight:700;line-height:37px;letter-spacing:1.625px;color:#9c9c9c;-webkit-text-stroke:0px #9c9c9c;">50%</div>
 <div class="tx" style="left:1292.2px;top:660.84px;font-size:25px;font-weight:700;line-height:37px;letter-spacing:1.916px;color:#9c9c9c;-webkit-text-stroke:0px #9c9c9c;">0%</div>

 <div class="tx" style="left:482.19px;top:788.19px;font-size:26px;font-weight:700;line-height:39px;letter-spacing:0.412px;color:#e8e8e8;-webkit-text-stroke:0.45px #e8e8e8;">Screen On Usage</div>
 <div class="tx" style="left:487.49px;top:1017.34px;font-size:25px;font-weight:700;line-height:37px;letter-spacing:-0.989px;color:#9c9c9c;-webkit-text-stroke:0px #9c9c9c;">12 P</div><div class="tx" style="left:588.27px;top:1017.34px;font-size:25px;font-weight:700;line-height:37px;letter-spacing:0px;color:#9c9c9c;-webkit-text-stroke:0px #9c9c9c;">3</div><div class="tx" style="left:687.77px;top:1017.34px;font-size:25px;font-weight:700;line-height:37px;letter-spacing:0px;color:#9c9c9c;-webkit-text-stroke:0px #9c9c9c;">6</div><div class="tx" style="left:788.03px;top:1017.34px;font-size:25px;font-weight:700;line-height:37px;letter-spacing:0px;color:#9c9c9c;-webkit-text-stroke:0px #9c9c9c;">9</div><div class="tx" style="left:887.19px;top:1017.34px;font-size:25px;font-weight:700;line-height:37px;letter-spacing:-0.607px;color:#9c9c9c;-webkit-text-stroke:0px #9c9c9c;">12 A</div><div class="tx" style="left:988.27px;top:1017.34px;font-size:25px;font-weight:700;line-height:37px;letter-spacing:0px;color:#9c9c9c;-webkit-text-stroke:0px #9c9c9c;">3</div><div class="tx" style="left:1087.77px;top:1017.34px;font-size:25px;font-weight:700;line-height:37px;letter-spacing:0px;color:#9c9c9c;-webkit-text-stroke:0px #9c9c9c;">6</div><div class="tx" style="left:1188.03px;top:1017.34px;font-size:25px;font-weight:700;line-height:37px;letter-spacing:0px;color:#9c9c9c;-webkit-text-stroke:0px #9c9c9c;">9</div>
 <div class="tx" style="left:1291.97px;top:812.84px;font-size:25px;font-weight:700;line-height:37px;letter-spacing:1.42px;color:#9c9c9c;-webkit-text-stroke:0px #9c9c9c;">60m</div>
 <div class="tx" style="left:1292.17px;top:902.84px;font-size:25px;font-weight:700;line-height:37px;letter-spacing:1.322px;color:#9c9c9c;-webkit-text-stroke:0px #9c9c9c;">30m</div>
 <div class="tx" style="left:1291.9px;top:992.84px;font-size:25px;font-weight:700;line-height:37px;letter-spacing:1.386px;color:#9c9c9c;-webkit-text-stroke:0px #9c9c9c;">0m</div>
 <div class="tx" style="left:488.33px;top:1058.94px;font-size:25px;font-weight:700;line-height:37px;letter-spacing:-0.13px;color:#9c9c9c;-webkit-text-stroke:0px #9c9c9c;">Jul 28</div>
 <div class="tx" style="left:888.23px;top:1058.94px;font-size:25px;font-weight:700;line-height:37px;letter-spacing:0.066px;color:#9c9c9c;-webkit-text-stroke:0px #9c9c9c;">Jul 29</div>

 <div style="position:absolute;left:1172px;top:1166px;width:148px;height:40px;border-radius:10px;background:#636363;box-shadow:0 1px 2px rgba(0,0,0,.4),inset 0 1px 0 rgba(255,255,255,.08)"></div>
 <div class="tx" style="left:1187.98px;top:1165.42px;font-size:26.5px;font-weight:400;line-height:39px;letter-spacing:0.319px;color:#ececec;-webkit-text-stroke:0.5px #ececec;">Options...</div>
 <div style="position:absolute;left:1340px;top:1166px;width:40px;height:40px;border-radius:20px;background:#636363;box-shadow:0 1px 2px rgba(0,0,0,.4),inset 0 1px 0 rgba(255,255,255,.08)"></div>
 <div class="tx" style="left:1352.7px;top:1164.16px;font-size:31px;font-weight:400;line-height:46px;letter-spacing:0px;color:#ececec;-webkit-text-stroke:0.9px #ececec;">?</div>

 <!-- header (covers scrolled content) -->
 <div style="position:absolute;left:422px;top:0;width:998px;height:100px;background:#2e2e2e"></div>
 <div id="hdiv"></div>
 <div class="tx" style="left:482.57px;top:16.19px;font-size:26px;font-weight:700;line-height:39px;letter-spacing:0.909px;color:#ececec;-webkit-text-stroke:0.45px #ececec;">Battery</div>
 <svg width="40" height="22" viewBox="0 0 40 22" style="left:482px;top:54px"><rect x="3.95" y="3.85" width="26.3" height="13.2" rx="3.9" fill="none" stroke="#b4b4b4" stroke-width="1.9"/><rect x="6" y="6" width="22.2" height="8.9" rx="1.7" fill="#adadad"/><path d="M32.8 7.800C35.600 8.500 35.600 12.400 32.800 13.100z" fill="#b0b0b0"/><path d="M19.600 3L11.700 11.100L16.800 12L15.200 17.800L22.900 9.200L18.500 8.300z" fill="#b4b4b4" stroke="#2e2e2e" stroke-width="2.400" paint-order="stroke" stroke-linejoin="round"/></svg>
 <div class="tx" style="left:526.23px;top:48.18px;font-size:22px;font-weight:400;line-height:33px;letter-spacing:0.772px;color:#a3a3a3;-webkit-text-stroke:0.5px #a3a3a3;">Charging: 47%</div>
</div></div>
</body></html>
